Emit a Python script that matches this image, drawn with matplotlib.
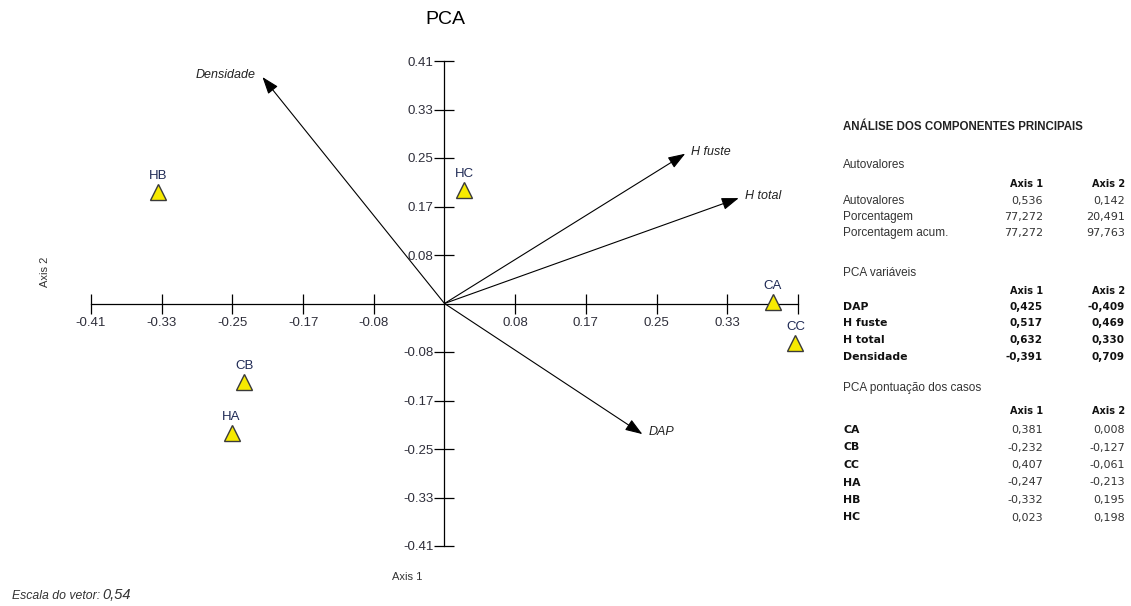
import numpy as np
import matplotlib
matplotlib.use('Agg')
import matplotlib.pyplot as plt
from matplotlib.transforms import ScaledTranslation

# dados da PCA
cases = ['CA', 'CB', 'CC', 'HA', 'HB', 'HC']
case_ax1 = [0.381, -0.232, 0.407, -0.247, -0.332, 0.023]
case_ax2 = [0.008, -0.127, -0.061, -0.213, 0.195, 0.198]

variables = ['DAP', 'H fuste', 'H total', 'Densidade']
var_ax1 = [0.425, 0.517, 0.632, -0.391]
var_ax2 = [-0.409, 0.469, 0.330, 0.709]
vector_scale = 0.54

eig_rows = ['Autovalores', 'Porcentagem', 'Porcentagem acum.']
eig_ax1 = [0.536, 77.272, 77.272]
eig_ax2 = [0.142, 20.491, 97.763]

lim = 0.41
xtick_labels = ['-0.41', '-0.33', '-0.25', '-0.17', '-0.08', '0.08', '0.17', '0.25', '0.33', '']
ytick_labels = ['-0.41', '-0.33', '-0.25', '-0.17', '-0.08', '0.08', '0.17', '0.25', '0.33', '0.41']

W, H = 1131, 606
fig = plt.figure(figsize=(W / 100, H / 100), dpi=100)
plt.rcParams['font.family'] = ['Liberation Sans', 'DejaVu Sans']


def px(x, y):
    return x / W, 1 - y / H


ax = fig.add_axes([91 / W, (H - 546) / H, 707 / W, 485 / H])
ax.set_xlim(-lim, lim)
ax.set_ylim(-lim, lim)
ax.patch.set_visible(False)

for s in ['top', 'right']:
    ax.spines[s].set_visible(False)
for s in ['left', 'bottom']:
    ax.spines[s].set_position('zero')
    ax.spines[s].set_linewidth(0.9)

step = lim / 5
ticks = [t for t in np.arange(-5, 6) * step if abs(t) > 1e-9]
ax.set_xticks(ticks)
ax.set_xticklabels(xtick_labels)
ax.set_yticks(ticks)
ax.set_yticklabels(ytick_labels)
ax.tick_params(axis='both', direction='inout', length=14, width=0.9,
               labelsize=9.5, labelcolor='#2e2e3a')
ax.tick_params(axis='x', pad=3)
ax.tick_params(axis='y', pad=1)

# vetores das variaveis
for name, vx, vy in zip(variables, var_ax1, var_ax2):
    tx, ty = vx * vector_scale, vy * vector_scale
    ax.annotate('', xy=(tx, ty), xytext=(0, 0),
                arrowprops=dict(arrowstyle='-|>,head_length=0.7,head_width=0.25',
                                color='black', lw=0.8, mutation_scale=15,
                                shrinkA=0, shrinkB=0))
    if tx < 0:
        ax.annotate(name, (tx, ty), xytext=(-5, 1.5), textcoords='offset points',
                    ha='right', va='center', fontsize=9, style='italic', color='#222222')
    else:
        ax.annotate(name, (tx, ty), xytext=(4.5, 1.5), textcoords='offset points',
                    ha='left', va='center', fontsize=9, style='italic', color='#222222')

# casos
shift = ax.transData + ScaledTranslation(0, -0.035, fig.dpi_scale_trans)
ax.plot(case_ax1, case_ax2, '^', ms=11.5, mfc='#f7ea00', mec='#3a3a3a', mew=1,
        transform=shift, zorder=3, clip_on=False)
for name, cx, cy in zip(cases, case_ax1, case_ax2):
    ax.annotate(name, (cx, cy), xytext=(0, 9), textcoords='offset points',
                ha='center', va='center', fontsize=9.5, color='#1f2a55')

fig.text(*px(445, 20), 'PCA', ha='center', va='center', fontsize=14)
fig.text(*px(45, 272), 'Axis 2', ha='center', va='center', rotation=90,
         fontsize=8, color='#333333')
fig.text(*px(407, 577), 'Axis 1', ha='center', va='center', fontsize=8, color='#333333')
fig.text(*px(12, 596), 'Escala do vetor:', ha='left', va='center', fontsize=8.8,
         style='italic', color='#333333')
fig.text(*px(102, 595), f'{vector_scale:.2f}'.replace('.', ','), ha='left', va='center',
         fontsize=10.5, style='italic', color='#333333')

# tabela a direita
xl, x1, x2 = 843, 1043, 1125


def fmt(v):
    return f'{v:.3f}'.replace('.', ',')


def header(y):
    fig.text(*px(x1, y), 'Axis 1', ha='right', va='center', fontsize=7,
             fontweight='bold', family='DejaVu Sans', color='#111111')
    fig.text(*px(x2, y), 'Axis 2', ha='right', va='center', fontsize=7,
             fontweight='bold', family='DejaVu Sans', color='#111111')


fig.text(*px(xl, 127), 'ANÁLISE DOS COMPONENTES PRINCIPAIS', ha='left', va='center',
         fontsize=8.3, fontweight='bold', color='#222222')

fig.text(*px(xl, 165), 'Autovalores', ha='left', va='center', fontsize=8.5, color='#333333')
header(184)
for i, (lab, a, b) in enumerate(zip(eig_rows, eig_ax1, eig_ax2)):
    y = 201 + i * 16
    fig.text(*px(xl, y), lab, ha='left', va='center', fontsize=8.5, color='#333333')
    fig.text(*px(x1, y), fmt(a), ha='right', va='center', fontsize=8,
             family='DejaVu Sans', color='#333333')
    fig.text(*px(x2, y), fmt(b), ha='right', va='center', fontsize=8,
             family='DejaVu Sans', color='#333333')

fig.text(*px(xl, 273), 'PCA variáveis', ha='left', va='center', fontsize=8.5, color='#333333')
header(291)
for i, (lab, a, b) in enumerate(zip(variables, var_ax1, var_ax2)):
    y = 307 + i * 16.5
    fig.text(*px(xl, y), lab, ha='left', va='center', fontsize=7.8, fontweight='bold',
             family='DejaVu Sans', color='#111111')
    fig.text(*px(x1, y), fmt(a), ha='right', va='center', fontsize=7.5, fontweight='bold',
             family='DejaVu Sans', color='#111111')
    fig.text(*px(x2, y), fmt(b), ha='right', va='center', fontsize=7.5, fontweight='bold',
             family='DejaVu Sans', color='#111111')

fig.text(*px(xl, 388), 'PCA pontuação dos casos', ha='left', va='center', fontsize=8.5,
         color='#333333')
header(411)
for i, (lab, a, b) in enumerate(zip(cases, case_ax1, case_ax2)):
    y = 430 + i * 17.5
    fig.text(*px(xl, y), lab, ha='left', va='center', fontsize=7.8, fontweight='bold',
             family='DejaVu Sans', color='#111111')
    fig.text(*px(x1, y), fmt(a), ha='right', va='center', fontsize=8,
             family='DejaVu Sans', color='#333333')
    fig.text(*px(x2, y), fmt(b), ha='right', va='center', fontsize=8,
             family='DejaVu Sans', color='#333333')

fig.savefig('out.png', dpi=100, facecolor='white')
